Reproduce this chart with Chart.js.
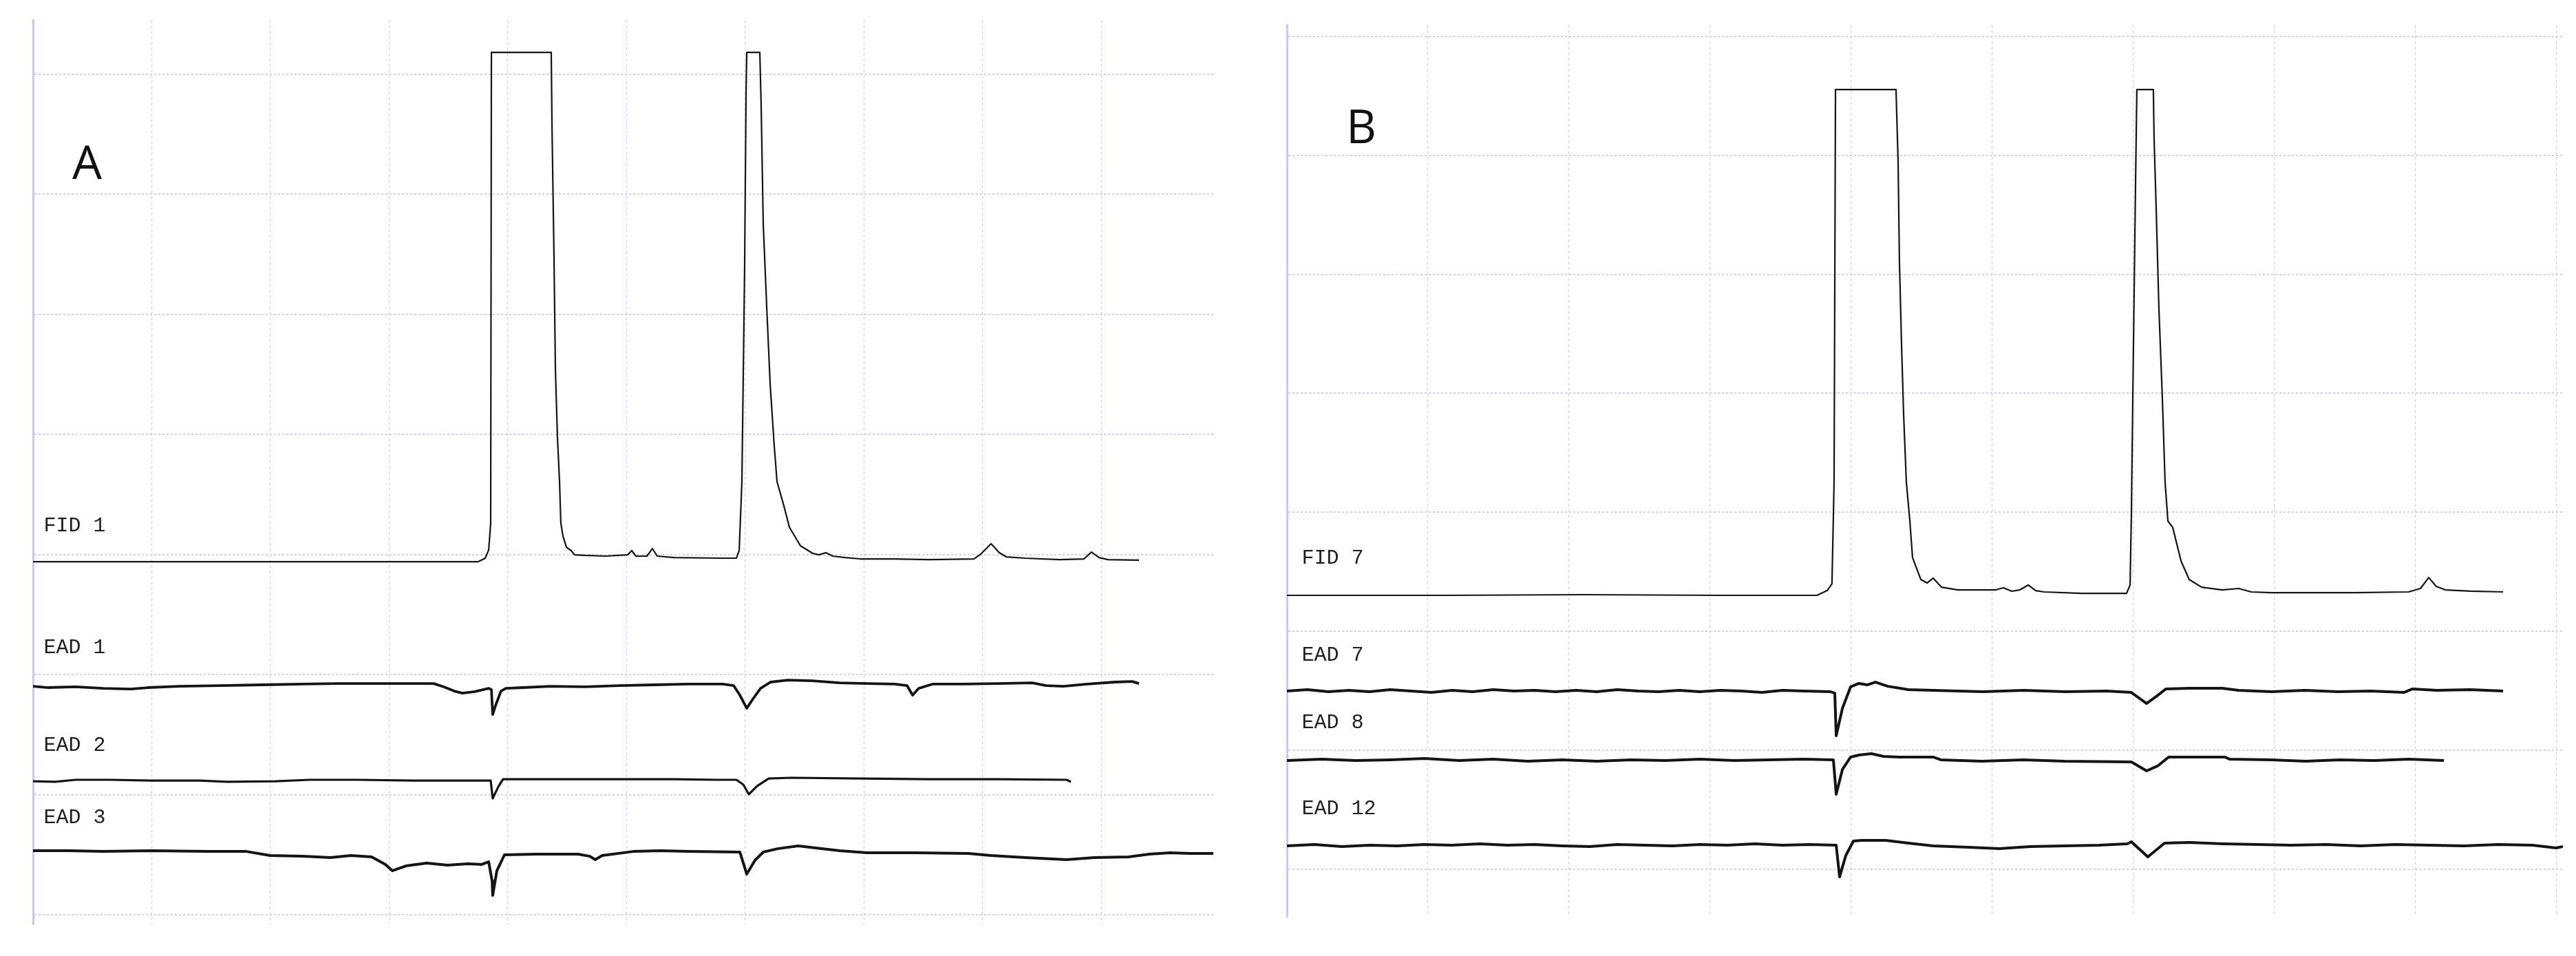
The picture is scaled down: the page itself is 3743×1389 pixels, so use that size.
<!DOCTYPE html>
<html><head><meta charset="utf-8">
<script src="https://cdn.jsdelivr.net/npm/chart.js@4.4.1/dist/chart.umd.min.js"></script>
<style>
html,body{margin:0;padding:0;background:#fff;width:3743px;height:1389px;overflow:hidden}
#wa{position:absolute;left:0;top:0;width:1860px;height:1389px}
#wb{position:absolute;left:1860px;top:0;width:1883px;height:1389px}
</style></head><body>
<div id="wa"><canvas id="ca" width="1860" height="1389"></canvas></div>
<div id="wb"><canvas id="cb" width="1883" height="1389"></canvas></div>
<script>
// ---- Panel A : retention time (grid units) and signal (grid units x10) ----
const fid1 = [[0,29.41],[1.461,29.41],[2.620,29.41],[3.751,29.41],[3.809,29.70],[3.838,30.38],[3.855,32.62],[3.861,71.83],[4.365,71.83],[4.371,65.99],[4.388,54.98],[4.400,45.46],[4.417,39.84],[4.435,36.06],[4.446,32.62],[4.464,31.53],[4.493,30.61],[4.533,30.33],[4.562,29.98],[4.649,29.93],[4.823,29.87],[5.009,29.98],[5.043,30.33],[5.078,29.87],[5.171,29.87],[5.217,30.50],[5.258,29.87],[5.403,29.75],[5.809,29.70],[5.925,29.70],[5.948,30.33],[5.971,36.06],[5.994,53.95],[6.006,68.51],[6.012,71.83],[6.122,71.83],[6.133,67.48],[6.151,57.50],[6.180,50.62],[6.209,44.20],[6.243,39.10],[6.267,36.06],[6.325,34.05],[6.371,32.28],[6.464,30.73],[6.568,30.10],[6.620,29.98],[6.678,30.16],[6.736,29.87],[6.841,29.75],[6.968,29.64],[7.258,29.64],[7.548,29.58],[7.925,29.64],[7.983,30.04],[8.070,30.90],[8.139,30.16],[8.197,29.81],[8.359,29.70],[8.649,29.58],[8.852,29.64],[8.916,30.21],[8.980,29.75],[9.055,29.58],[9.316,29.53]];
const ead1 = [[0,19.03],[0.128,18.92],[0.359,18.98],[0.591,18.86],[0.823,18.80],[0.968,18.92],[1.229,19.03],[1.577,19.09],[1.925,19.15],[2.272,19.21],[2.562,19.26],[2.910,19.26],[3.374,19.26],[3.461,18.98],[3.548,18.63],[3.617,18.46],[3.722,18.58],[3.838,18.86],[3.861,18.75],[3.872,16.68],[3.896,17.43],[3.942,18.63],[3.983,18.86],[4.128,18.92],[4.359,19.03],[4.649,18.98],[4.939,19.09],[5.229,19.15],[5.519,19.21],[5.809,19.21],[5.901,19.09],[5.954,18.29],[6.012,17.20],[6.058,17.89],[6.128,18.86],[6.214,19.38],[6.359,19.55],[6.562,19.49],[6.794,19.32],[7.026,19.26],[7.258,19.21],[7.362,19.09],[7.409,18.29],[7.461,18.86],[7.577,19.21],[7.838,19.21],[8.128,19.26],[8.417,19.32],[8.533,19.09],[8.678,19.03],[8.881,19.21],[9.113,19.38],[9.258,19.43],[9.316,19.26]];
const ead2 = [[0,11.12],[0.186,11.07],[0.359,11.24],[0.649,11.24],[0.997,11.18],[1.403,11.18],[1.635,11.07],[2.041,11.12],[2.330,11.24],[2.736,11.24],[3.200,11.18],[3.855,11.18],[3.872,9.69],[3.919,10.66],[3.959,11.29],[4.359,11.29],[5.403,11.29],[5.751,11.24],[5.925,11.24],[5.983,10.84],[6.029,10.03],[6.099,10.72],[6.197,11.35],[6.388,11.41],[6.968,11.35],[7.548,11.29],[8.128,11.29],[8.707,11.24],[8.742,11.07]];
const ead3 = [[0,5.33],[0.301,5.33],[0.591,5.27],[0.997,5.33],[1.461,5.27],[1.797,5.27],[1.997,4.93],[2.272,4.87],[2.504,4.76],[2.678,4.93],[2.852,4.82],[2.968,4.19],[3.026,3.67],[3.142,4.07],[3.316,4.30],[3.490,4.13],[3.664,4.24],[3.780,4.19],[3.838,4.41],[3.867,2.81],[3.872,1.61],[3.907,3.67],[3.971,4.99],[4.243,5.05],[4.591,5.05],[4.690,4.87],[4.736,4.59],[4.794,4.93],[5.055,5.27],[5.287,5.33],[5.519,5.27],[5.954,5.22],[6.012,3.38],[6.081,4.53],[6.151,5.22],[6.272,5.50],[6.446,5.73],[6.591,5.56],[6.794,5.33],[7.026,5.16],[7.432,5.16],[7.878,5.10],[8.070,4.93],[8.359,4.76],[8.707,4.59],[8.939,4.76],[9.229,4.82],[9.403,5.05],[9.577,5.16],[9.751,5.10],[9.942,5.10]];

// ---- Panel B ----
const fid7 = [[0,23.02],[1.122,23.02],[2.098,23.08],[3.073,23.02],[3.756,23.02],[3.829,23.42],[3.863,24.00],[3.878,32.56],[3.888,65.53],[4.317,65.53],[4.332,59.34],[4.341,51.13],[4.356,44.13],[4.371,38.17],[4.390,32.56],[4.415,29.27],[4.434,26.20],[4.493,24.35],[4.537,24.06],[4.580,24.47],[4.639,23.71],[4.756,23.48],[5.024,23.48],[5.078,23.66],[5.137,23.37],[5.195,23.48],[5.254,23.89],[5.307,23.42],[5.366,23.31],[5.634,23.19],[5.951,23.19],[5.976,23.89],[5.985,29.67],[6.000,44.13],[6.015,57.84],[6.024,65.53],[6.141,65.53],[6.146,61.48],[6.161,55.52],[6.180,47.25],[6.205,39.50],[6.224,32.56],[6.244,29.27],[6.278,28.74],[6.337,25.91],[6.395,24.35],[6.483,23.71],[6.629,23.48],[6.746,23.60],[6.834,23.31],[6.976,23.25],[7.561,23.25],[7.951,23.31],[8.034,23.60],[8.093,24.52],[8.146,23.77],[8.210,23.48],[8.390,23.37],[8.620,23.31]];
const ead7 = [[0,14.98],[0.146,15.10],[0.293,14.92],[0.439,15.04],[0.585,14.92],[0.732,15.10],[0.878,14.98],[1.024,14.86],[1.171,15.04],[1.317,14.92],[1.463,15.10],[1.610,14.98],[1.756,15.04],[1.902,14.92],[2.049,15.04],[2.195,14.92],[2.341,15.10],[2.488,14.98],[2.634,14.92],[2.780,15.04],[2.927,14.92],[3.073,15.04],[3.220,14.98],[3.366,14.86],[3.512,15.04],[3.659,14.98],[3.854,14.92],[3.883,14.80],[3.893,11.22],[3.937,13.53],[3.995,15.33],[4.054,15.62],[4.112,15.50],[4.171,15.73],[4.259,15.38],[4.405,15.10],[4.580,15.04],[4.932,14.92],[5.224,15.04],[5.517,14.92],[5.810,14.98],[5.985,14.86],[6.093,13.94],[6.161,14.52],[6.229,15.15],[6.395,15.21],[6.629,15.21],[6.746,15.04],[6.980,14.92],[7.215,15.04],[7.449,14.92],[7.683,14.98],[7.917,14.86],[7.976,15.15],[8.151,15.04],[8.385,15.10],[8.620,14.98]];
const ead8 = [[0,9.14],[0.244,9.25],[0.488,9.14],[0.732,9.20],[0.976,9.31],[1.220,9.14],[1.463,9.25],[1.707,9.08],[1.951,9.20],[2.195,9.08],[2.439,9.20],[2.683,9.14],[2.927,9.25],[3.171,9.14],[3.415,9.20],[3.659,9.25],[3.873,9.20],[3.893,6.30],[3.937,8.39],[3.995,9.43],[4.054,9.60],[4.142,9.72],[4.229,9.49],[4.341,9.43],[4.580,9.43],[4.634,9.20],[4.927,9.08],[5.220,9.20],[5.512,9.08],[5.985,9.02],[6.093,8.27],[6.171,8.68],[6.249,9.43],[6.488,9.43],[6.649,9.43],[6.683,9.25],[6.976,9.20],[7.220,9.08],[7.463,9.20],[7.707,9.14],[7.951,9.25],[8.200,9.14]];
const ead12 = [[0,1.97],[0.195,2.08],[0.390,1.91],[0.585,2.02],[0.780,1.97],[0.976,2.08],[1.171,2.02],[1.366,2.14],[1.561,2.02],[1.756,2.08],[1.951,1.97],[2.146,1.91],[2.341,2.08],[2.537,2.02],[2.732,1.97],[2.927,2.08],[3.122,2.02],[3.317,2.14],[3.512,2.02],[3.707,2.08],[3.893,2.02],[3.917,-0.64],[3.961,1.16],[4.015,2.37],[4.073,2.43],[4.244,2.43],[4.405,2.20],[4.580,1.97],[4.829,1.85],[5.049,1.74],[5.268,1.91],[5.512,1.97],[5.756,2.02],[5.956,2.14],[5.985,2.31],[6.102,1.04],[6.220,2.20],[6.395,2.26],[6.634,2.14],[6.878,2.08],[7.122,2.02],[7.366,2.08],[7.610,1.97],[7.854,2.08],[8.098,2.02],[8.341,1.97],[8.585,2.08],[8.829,2.02],[8.995,1.79],[9.044,1.91]];

const namesA = ['FID 1','EAD 1','EAD 2','EAD 3'];
const namesB = ['FID 7','EAD 7','EAD 8','EAD 12'];
const xTicks = [1,2,3,4,5,6,7,8,9];
const yTicks = [0,10,20,30,40,50,60,70];

const GRID = 'rgb(206,206,250)';
const AXIS = 'rgb(200,200,245)';
const INK = '#141414';

const labelPlugin = {
  id: 'traceLabels',
  afterDatasetsDraw(chart, args, opts) {
    const {ctx, scales: {x, y}} = chart;
    ctx.save();
    ctx.fillStyle = '#1e1e1e';
    ctx.textBaseline = 'alphabetic';
    ctx.textAlign = 'left';
    ctx.font = "30px 'Liberation Mono', 'Courier New', monospace";
    opts.items.forEach(it => ctx.fillText(it.text, x.getPixelForValue(it.x), y.getPixelForValue(it.y)));
    ctx.font = "68px 'Open Sans', 'Liberation Sans', sans-serif";
    ctx.fillStyle = '#111';
    ctx.fillText(opts.letter.text, x.getPixelForValue(opts.letter.x), y.getPixelForValue(opts.letter.y));
    ctx.restore();
  }
};

function makePanel(id, traces, widths, names, labelX, labelY, letter, xMax, yMin, yMax, padding) {
  new Chart(document.getElementById(id), {
    type: 'line',
    data: {
      datasets: traces.map((t, i) => ({
        label: names[i],
        data: t.map(p => ({x: p[0], y: p[1]})),
        borderColor: INK,
        borderWidth: widths[i],
        pointRadius: 0,
        tension: 0,
        fill: false,
        borderJoinStyle: 'round'
      }))
    },
    options: {
      responsive: false,
      animation: false,
      devicePixelRatio: 1,
      layout: {padding},
      plugins: {
        legend: {display: false},
        tooltip: {enabled: false},
        traceLabels: {
          items: names.map((n, i) => ({text: n, x: labelX, y: labelY[i]})),
          letter
        }
      },
      scales: {
        x: {
          type: 'linear', min: 0, max: xMax,
          afterBuildTicks: ax => { ax.ticks = xTicks.map(v => ({value: v})); },
          ticks: {display: false},
          grid: {color: GRID, lineWidth: 1.2, drawTicks: false},
          border: {display: false, dash: [4, 4]}
        },
        y: {
          type: 'linear', min: yMin, max: yMax,
          afterBuildTicks: ax => { ax.ticks = yTicks.map(v => ({value: v})); },
          ticks: {display: false},
          grid: {color: GRID, lineWidth: 2, drawTicks: false},
          border: {display: true, color: AXIS, width: 3, dash: [3, 3]}
        }
      }
    },
    plugins: [labelPlugin]
  });
}

makePanel('ca', [fid1, ead1, ead2, ead3], [2.2, 3.8, 3.2, 4], namesA,
  0.09, [31.93, 21.79, 13.64, 7.62],
  {text: 'A', x: 0.33, y: 61.29},
  9.942, -0.80, 74.53,
  {left: 48, top: 29, right: 97, bottom: 46});

makePanel('cb', [fid7, ead7, ead8, ead12], [2.2, 4, 4, 4], namesB,
  0.105, [25.68, 17.52, 11.86, 4.63],
  {text: 'B', x: 0.42, y: 61.02},
  9.044, -3.99, 70.97,
  {left: 10, top: 36, right: 19, bottom: 57});
</script>
</body></html>
